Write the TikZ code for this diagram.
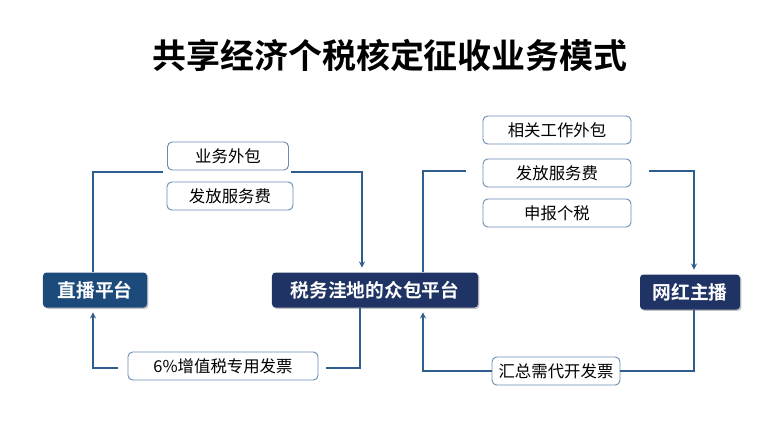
\documentclass[tikz,border=0pt]{standalone}
\usepackage{fontspec}
\setmainfont{Noto Sans CJK SC}[BoldFont={Noto Sans CJK SC Bold}]
\usetikzlibrary{shadows}

\definecolor{blueline}{HTML}{2E5E8E}
\definecolor{tagline}{HTML}{6A8CB4}
\definecolor{navy}{HTML}{1F3464}
\definecolor{deepblue}{HTML}{1C4A7A}

\begin{document}
\begin{tikzpicture}[x=0.03cm, y=-0.03cm,
          platform/.style={fill=navy, text=white, font=\fontsize{16}{18}\selectfont\bfseries, minimum height=1.05cm, align=center, rounded corners=3pt,
            drop shadow={shadow xshift=1.2pt, shadow yshift=-1.2pt, fill=black!40, opacity=0.6}},
          tag/.style={draw=tagline, fill=white, line width=0.8pt, font=\fontsize{14}{16}\selectfont, minimum height=0.84cm, align=center, rounded corners=4pt},
          link/.style={draw=blueline, line width=1.3pt},
          arrow/.style={link, ->, >=stealth, shorten >=4pt}
        ]
          \useasboundingbox (0,0) rectangle (780,434);

          % Title
          \node[font=\fontsize{29}{32}\selectfont\bfseries] (title) at (390,55) {共享经济个税核定征收业务模式};

          % Platforms
          \node[platform, fill=deepblue, minimum width=3.12cm] (live) at (95,290) {直播平台};
          \node[platform, minimum width=6.18cm] (crowd) at (375,290) {税务洼地的众包平台};
          \node[platform, minimum width=3.0cm] (anchor) at (690,292) {网红主播};

          % Tags, left side
          \node[tag, minimum width=3.63cm] (outsrc) at (228,156) {业务外包};
          \node[tag, minimum width=3.78cm] (payfee) at (230,196) {发放服务费};
          \node[tag, minimum width=5.7cm] (vat) at (223,366) {6\%增值税专用发票};

          % Tags, right side
          \node[tag, minimum width=4.44cm] (workout) at (557,130) {相关工作外包};
          \node[tag, minimum width=4.44cm] (payfee2) at (557,173) {发放服务费};
          \node[tag, minimum width=4.44cm] (taxret) at (557,213) {申报个税};
          \node[tag, minimum width=3.84cm] (invoice) at (556,371) {汇总需代开发票};

          % Gap ends of the broken lines
          \coordinate (tlA) at (163,172);
          \coordinate (tlB) at (291,172);
          \coordinate (trA) at (466,171);
          \coordinate (trB) at (649,171);
          \coordinate (blA) at (326,368);
          \coordinate (blB) at (118,368);

          % Top left: live -> crowd
          \draw[link] ([xshift=-0.06cm]live.north) |- (tlA);
          \draw[arrow] (tlB) -| ([xshift=-0.39cm]crowd.north);

          % Top right: crowd -> anchor
          \draw[link] ([xshift=1.44cm]crowd.north) |- (trA);
          \draw[arrow] (trB) -| ([xshift=0.12cm]anchor.north);

          % Bottom left: crowd -> live
          \draw[link] ([xshift=-0.45cm]crowd.south) |- (blA);
          \draw[arrow] (blB) -| ([xshift=-0.06cm]live.south);

          % Bottom right: anchor -> crowd
          \draw[link] ([xshift=0.12cm]anchor.south) |- (invoice.east);
          \draw[arrow] (invoice.west) -| ([xshift=1.44cm]crowd.south);

        \end{tikzpicture}
\end{document}
